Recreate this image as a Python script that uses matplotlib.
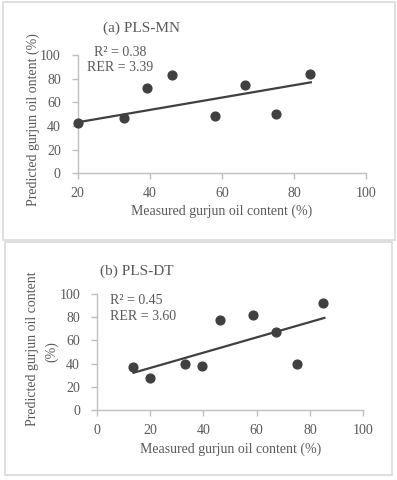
import matplotlib
matplotlib.use("Agg")
import matplotlib.pyplot as plt
from matplotlib.patches import Rectangle

# ---- data ----
mn_measured = [20, 33, 39.2, 46.3, 58.2, 66.5, 75, 84.5]
mn_predicted = [42.3, 46.5, 71.8, 82.8, 48.2, 74.9, 49.9, 83.7]
mn_trend_x = [20, 84.7]
mn_trend_y = [43.1, 76.9]

dt_measured = [13.5, 19.9, 33.2, 39.5, 46.4, 58.5, 67.1, 75.3, 85.0]
dt_predicted = [37.0, 27.5, 39.6, 37.8, 77.7, 82.3, 67.3, 39.6, 92.3]
dt_trend_x = [13.8, 85.4]
dt_trend_y = [32.1, 79.4]

mn_xticks = [20, 40, 60, 80, 100]
dt_xticks = [0, 20, 40, 60, 80, 100]
yticks = [0, 20, 40, 60, 80, 100]

W, H = 397, 480
fig = plt.figure(figsize=(W / 100, H / 100), dpi=100)
plt.rcParams['font.family'] = ['Liberation Serif', 'DejaVu Serif']

TXT = '#595959'
AXC = '#bfbfbf'
MK = '#404040'


def fx(x):
    return x / W


def fy(y):
    return 1 - y / H


def box(x0, y0, x1, y1):
    fig.patches.append(Rectangle((fx(x0), fy(y1)), fx(x1) - fx(x0), fy(y0) - fy(y1),
                                 transform=fig.transFigure, fill=False,
                                 edgecolor='#d9d9d9', linewidth=1.2))


def make_axes(l, r, t, b, xlim, xticks, xs, ys, tx, ty):
    ax = fig.add_axes([fx(l), fy(b), fx(r) - fx(l), fy(t) - fy(b)])
    ax.set_xlim(*xlim)
    ax.set_ylim(0, 100)
    ax.set_xticks(xticks)
    ax.set_yticks(yticks)
    for s in ['top', 'right']:
        ax.spines[s].set_visible(False)
    for s in ['left', 'bottom']:
        ax.spines[s].set_color(AXC)
        ax.spines[s].set_linewidth(1.0)
    ax.tick_params(axis='both', colors=AXC, labelcolor=TXT, labelsize=10,
                   length=4, width=1.0, direction='out')
    ax.tick_params(axis='y', pad=8)
    ax.tick_params(axis='x', pad=6)
    ax.scatter(xs, ys, s=40, color=MK, zorder=3, clip_on=False)
    ax.plot(tx, ty, color=MK, linewidth=1.6, zorder=2)
    ax.patch.set_alpha(0)
    return ax


box(3, 1.5, 395, 239.5)
box(4.7, 241.5, 392, 475)

# top panel
make_axes(77.5, 366, 55, 173.3, (20, 100), mn_xticks,
          mn_measured, mn_predicted, mn_trend_x, mn_trend_y)
fig.text(fx(141.7), fy(28), '(a) PLS-MN', ha='center', va='center', fontsize=11, color=TXT)
fig.text(fx(120), fy(52), 'R² = 0.38', ha='center', va='center', fontsize=10, color=TXT)
fig.text(fx(120), fy(67.5), 'RER = 3.39', ha='center', va='center', fontsize=10, color=TXT)
fig.text(fx(222), fy(211.5), 'Measured gurjun oil content (%)', ha='center', va='center',
         fontsize=10, color=TXT)
fig.text(fx(33), fy(120), 'Predicted gurjun oil ontent (%)', ha='center', va='center',
         rotation=90, fontsize=10, color=TXT)

# bottom panel
make_axes(96.7, 363.3, 294, 410, (0, 100), dt_xticks,
          dt_measured, dt_predicted, dt_trend_x, dt_trend_y)
fig.text(fx(136.7), fy(271.5), '(b) PLS-DT', ha='center', va='center', fontsize=11, color=TXT)
fig.text(fx(110), fy(301), 'R² = 0.45', ha='left', va='center', fontsize=10, color=TXT)
fig.text(fx(110), fy(317), 'RER = 3.60', ha='left', va='center', fontsize=10, color=TXT)
fig.text(fx(230.5), fy(449), 'Measured gurjun oil content (%)', ha='center', va='center',
         fontsize=10, color=TXT)
fig.text(fx(33), fy(349), 'Predicted gurjun oil content', ha='center', va='center',
         rotation=90, fontsize=10, color=TXT)
fig.text(fx(52), fy(352), '(%)', ha='center', va='center',
         rotation=90, fontsize=10, color=TXT)

fig.savefig('out.png', dpi=100)
